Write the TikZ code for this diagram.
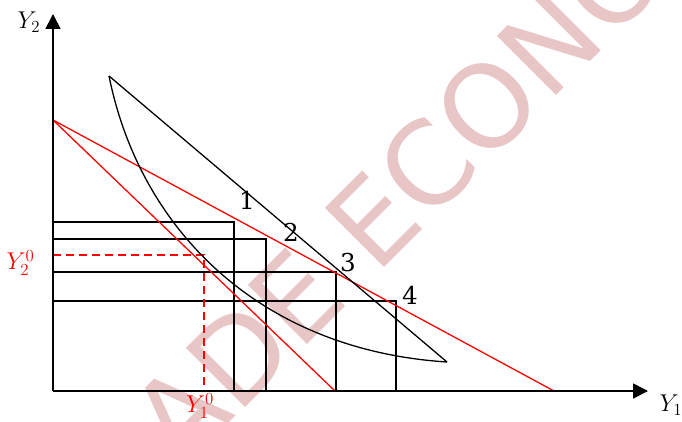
\documentclass[tikz,border=0pt]{standalone}
\usepackage{fontspec}
\setmainfont{DejaVu Serif}
\newfontfamily\wmfont{DejaVu Sans}
\usepackage{tikz}
\usetikzlibrary{arrows.meta,calc}
\definecolor{wmpink}{RGB}{233,198,198}

\begin{document}
\begin{tikzpicture}[
  x=0.3cm, y=0.3cm,
  font=\fontsize{21}{25}\selectfont,
  axis/.style={line width=1.4pt, -{Triangle[length=0.45cm, width=0.45cm]}},
  curve/.style={line width=1.1pt},
  budget/.style={line width=1.1pt, red},
  guide/.style={line width=1pt, red, dash pattern=on 6.8pt off 4.3pt},
  area/.style={line width=1pt},
  lab/.style={inner sep=1pt},
  wm/.style={font=\wmfont\fontsize{98}{100}\selectfont, text=wmpink, rotate=45, inner sep=0pt, anchor=west}
]
\useasboundingbox (-5.3,-3.0) rectangle (62.9,39.1);
% watermark
\begin{scope}
  \clip (-5.3,-3.0) rectangle (62.9,39.1);
  \node[wm] (mark) at (-0.4,-15.3) {TRADE ECONOMICS};
\end{scope}
\coordinate (O) at (0,0);
\coordinate (top) at (5.6,31.5);
\coordinate (tip) at (39.4,2.9);
\coordinate (A) at (0,27.1);
\coordinate (E) at (15.1,13.6);
% rectangles under the points
\foreach \x/\y in {18.1/16.9, 21.3/15.2, 28.3/11.9, 34.3/9.0}{
  \draw[area] (0,\y) -| (\x,0);
}
% red lines
\draw[budget] (A) -- (50.1,0);
\draw[budget] (A) -- (28.2,0);
\draw[guide] (0,13.6) -- (E) -- (15.1,0);
% the lens
\draw[curve] (top) -- (tip);
\draw[curve] (top) .. controls (8.7,16.1) and (20.7,4.1) .. (tip);
% axes
\draw[axis] (O) -- (59.5,0);
\draw[axis] (O) -- (0,37.7);
\node[lab] (ylab) at (-2.4,36.9) {$Y_2$};
\node[lab] (xlab) at (61.8,-1.4) {$Y_1$};
\node[lab, red, anchor=east] (y0) at (-1.7,12.8) {$Y_2^0$};
\node[lab, red] (x0) at (14.7,-1.5) {$Y_1^0$};
\foreach \n/\x/\y in {1/19.4/19.1, 2/23.8/15.9, 3/29.5/12.8, 4/35.7/9.6}{
  \node[lab] (p\n) at (\x,\y) {\n};
}
\end{tikzpicture}
\end{document}
